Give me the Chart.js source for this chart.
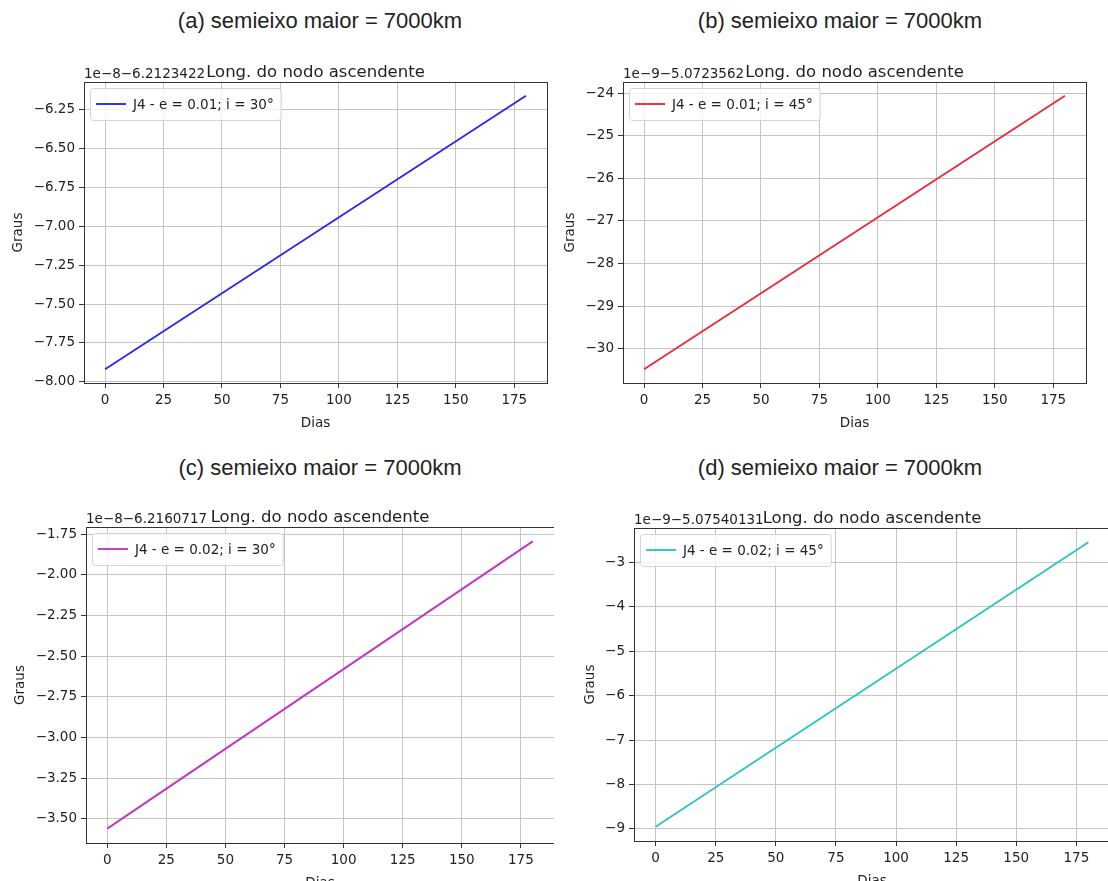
<!DOCTYPE html>
<html>
<head>
<meta charset="utf-8">
<script src="https://cdn.jsdelivr.net/npm/chart.js@4.4.1/dist/chart.umd.min.js"></script>
<style>
body{margin:0;width:1108px;height:881px;overflow:hidden;background:#fff;position:relative;font-family:"Liberation Sans",Arial,sans-serif}
canvas{position:absolute}
.ptitle{position:absolute;width:520px;text-align:center;font-size:22px;line-height:25px;color:#222}
</style>
</head>
<body>
<div class="ptitle" style="left:60px;top:8px">(a) semieixo maior = 7000km</div>
<div class="ptitle" style="left:580px;top:8px">(b) semieixo maior = 7000km</div>
<div class="ptitle" style="left:60px;top:455px">(c) semieixo maior = 7000km</div>
<div class="ptitle" style="left:580px;top:455px">(d) semieixo maior = 7000km</div>
<canvas id="ca" width="554" height="440" style="left:0;top:0"></canvas>
<canvas id="cb" width="554" height="440" style="left:554px;top:0"></canvas>
<canvas id="cc" width="554" height="441" style="left:0;top:440px"></canvas>
<canvas id="cd" width="570" height="441" style="left:554px;top:440px"></canvas>
<script>
const dias = [0, 180];
const longA = [-7.92, -6.16];
const longB = [-30.48, -24.06];
const longC = [-3.56, -1.795];
const longD = [-8.95, -2.55];

const xTicks = [0, 25, 50, 75, 100, 125, 150, 175];
const yTicksA = [-8.00, -7.75, -7.50, -7.25, -7.00, -6.75, -6.50, -6.25];
const yTicksB = [-30, -29, -28, -27, -26, -25, -24];
const yTicksC = [-3.50, -3.25, -3.00, -2.75, -2.50, -2.25, -2.00, -1.75];
const yTicksD = [-9, -8, -7, -6, -5, -4, -3];

const legendas = ['J4 - e = 0.01; i = 30°', 'J4 - e = 0.01; i = 45°', 'J4 - e = 0.02; i = 30°', 'J4 - e = 0.02; i = 45°'];
const offsets = ['1e\u22128\u22126.2123422', '1e\u22129\u22125.0723562', '1e\u22128\u22126.2160717', '1e\u22129\u22125.07540131'];
const subtitulo = 'Long. do nodo ascendente';

const FONT = '"DejaVu Sans", sans-serif';
const minus = s => s.replace('-', '\u2212');

// canvas pos + plot box in page pixels
const paineis = [
  {id:'ca', cx:0, cy:0, cw:554, ch:440, box:[84, 82, 547, 383], y:longA, yt:yTicksA, dec:2, cor:'#2a2aee', lab:legendas[0], off:offsets[0]},
  {id:'cb', cx:554, cy:0, cw:554, ch:440, box:[623, 82, 1086, 383], y:longB, yt:yTicksB, dec:0, cor:'#ec2a38', lab:legendas[1], off:offsets[1]},
  {id:'cc', cx:0, cy:440, cw:554, ch:441, box:[86, 527, 564, 843], y:longC, yt:yTicksC, dec:2, cor:'#c236c2', lab:legendas[2], off:offsets[2]},
  {id:'cd', cx:554, cy:440, cw:570, ch:441, box:[634, 528, 1110, 841], y:longD, yt:yTicksD, dec:0, cor:'#2cc4c4', lab:legendas[3], off:offsets[3]},
];

const extras = {
  id: 'extras',
  afterDraw(chart, args, o) {
    const ctx = chart.ctx, a = chart.chartArea;
    ctx.save();
    ctx.strokeStyle = '#333';
    ctx.lineWidth = 1;
    ctx.strokeRect(a.left + 0.5, a.top + 0.5, a.right - a.left, a.bottom - a.top);

    ctx.fillStyle = '#222';
    ctx.font = '13.5px ' + FONT;
    ctx.textAlign = 'left';
    ctx.textBaseline = 'alphabetic';
    ctx.fillText(o.off, a.left, a.top - 4);

    ctx.font = '16.5px ' + FONT;
    ctx.textAlign = 'center';
    ctx.fillText(subtitulo, (a.left + a.right) / 2, a.top - 5);

    ctx.font = '13.5px ' + FONT;
    ctx.textBaseline = 'middle';
    ctx.fillText('Dias', (a.left + a.right) / 2, a.bottom + 40);

    let maxW = 0;
    chart.scales.y.ticks.forEach(t => { maxW = Math.max(maxW, ctx.measureText(t.label).width); });
    ctx.save();
    ctx.translate(a.left - 9 - maxW - 8 - 7, (a.top + a.bottom) / 2);
    ctx.rotate(-Math.PI / 2);
    ctx.fillText('Graus', 0, 0);
    ctx.restore();

    // legenda
    const ds = chart.data.datasets[0];
    ctx.font = '13.5px ' + FONT;
    const tw = ctx.measureText(ds.label).width;
    const bx = a.left + 6, by = a.top + 6, bw = 43 + tw + 7, bh = 32;
    ctx.beginPath();
    ctx.roundRect(bx + 0.5, by + 0.5, bw, bh, 3);
    ctx.fillStyle = 'rgba(255,255,255,0.8)';
    ctx.fill();
    ctx.strokeStyle = '#d4d4d4';
    ctx.stroke();
    ctx.strokeStyle = ds.borderColor;
    ctx.lineWidth = 1.9;
    ctx.beginPath();
    ctx.moveTo(bx + 6, by + bh / 2);
    ctx.lineTo(bx + 36, by + bh / 2);
    ctx.stroke();
    ctx.fillStyle = '#222';
    ctx.textAlign = 'left';
    ctx.fillText(ds.label, bx + 43, by + bh / 2 + 1);
    ctx.restore();
  }
};

paineis.forEach(p => {
  const left = p.box[0] - p.cx, top = p.box[1] - p.cy, right = p.box[2] - p.cx, bottom = p.box[3] - p.cy;
  const yw = 60, xh = Math.min(45, p.ch - bottom);
  const ymin = Math.min(...p.y), ymax = Math.max(...p.y);
  const ym = (ymax - ymin) * 0.05, xm = (dias[1] - dias[0]) * 0.05;

  new Chart(document.getElementById(p.id), {
    type: 'line',
    data: {
      datasets: [{
        label: p.lab,
        data: dias.map((d, i) => ({x: d, y: p.y[i]})),
        borderColor: p.cor,
        borderWidth: 1.9,
        pointRadius: 0,
        fill: false,
      }],
    },
    options: {
      responsive: false,
      animation: false,
      layout: {
        padding: {left: left - yw, top: top, right: p.cw - right, bottom: p.ch - bottom - xh}
      },
      plugins: {
        legend: {display: false},
        tooltip: {enabled: false},
        extras: {off: p.off},
      },
      scales: {
        x: {
          type: 'linear',
          min: dias[0] - xm,
          max: dias[1] + xm,
          afterBuildTicks: s => { s.ticks = xTicks.map(v => ({value: v})); },
          afterFit: s => { s.height = xh; },
          border: {display: false},
          grid: {color: '#c4c4c4', tickColor: '#333', tickLength: 5, lineWidth: 1},
          ticks: {color: '#222', padding: 4, font: {family: FONT, size: 13.5}, maxRotation: 0, callback: v => String(v)},
        },
        y: {
          min: ymin - ym,
          max: ymax + ym,
          afterBuildTicks: s => { s.ticks = p.yt.map(v => ({value: v})); },
          afterFit: s => { s.width = yw; },
          border: {display: false},
          grid: {color: '#c4c4c4', tickColor: '#333', tickLength: 5, lineWidth: 1},
          ticks: {color: '#222', padding: 4, font: {family: FONT, size: 13.5}, callback: v => minus(v.toFixed(p.dec))},
        },
      },
    },
    plugins: [extras],
  });
});
</script>
</body>
</html>
